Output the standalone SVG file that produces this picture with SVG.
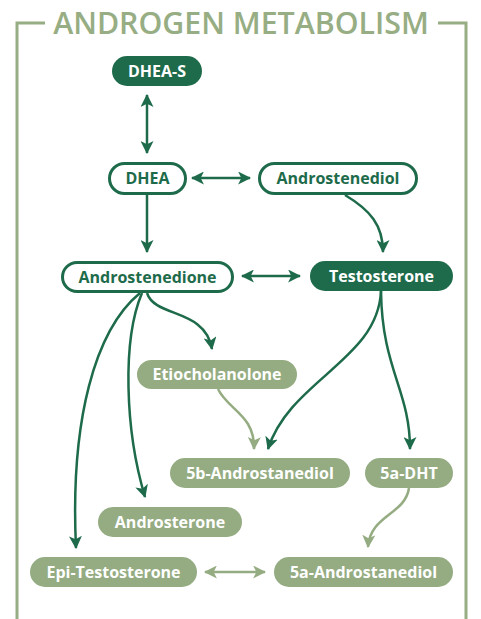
<svg xmlns="http://www.w3.org/2000/svg" width="481" height="619" viewBox="0 0 481 619">
<defs>
<style>
.frame{fill:none;stroke:#97ad83;stroke-width:3}
.title{font-family:"Open Sans","Liberation Sans",sans-serif;font-weight:600;font-size:30.3px;fill:#97ad83}
.dk{fill:#1e6b4b}
.ol{fill:#fff;stroke:#1e6b4b;stroke-width:3}
.lt{fill:#95ac82}
.tw{font-family:"Open Sans","Liberation Sans",sans-serif;font-weight:700;font-size:16px;fill:#fff;text-anchor:middle}
.td{font-family:"Open Sans","Liberation Sans",sans-serif;font-weight:700;font-size:16px;fill:#1e6b4b;text-anchor:middle}
.cd{fill:none;stroke:#1e6b4b;stroke-width:2.5}
.cl{fill:none;stroke:#95ac82;stroke-width:2.5}
</style>
<marker id="ad" viewBox="0 0 12 12" refX="11" refY="6" markerWidth="13" markerHeight="13" markerUnits="userSpaceOnUse" orient="auto-start-reverse">
<path d="M0,0 L12,6 L0,12 L3,6 Z" fill="#1e6b4b"/>
</marker>
<marker id="al" viewBox="0 0 12 12" refX="11" refY="6" markerWidth="13" markerHeight="13" markerUnits="userSpaceOnUse" orient="auto-start-reverse">
<path d="M0,0 L12,6 L0,12 L3,6 Z" fill="#95ac82"/>
</marker>
</defs>
<rect width="481" height="619" fill="#fff"/>
<g id="frame">
<path class="frame" d="M45,23 H17 V619"/>
<path class="frame" d="M438,23 H466 V619"/>
<text class="title" x="241" y="33.5" text-anchor="middle">ANDROGEN METABOLISM</text>
</g>
<g id="connectors">
<path class="cd" d="M147,95 V153" marker-start="url(#ad)" marker-end="url(#ad)"/>
<path class="cd" d="M192,178 H250" marker-start="url(#ad)" marker-end="url(#ad)"/>
<path class="cd" d="M147,195 V252" marker-end="url(#ad)"/>
<path class="cd" d="M345,195 C370,210 383,225 383,252" marker-end="url(#ad)"/>
<path class="cd" d="M242,276 H300" marker-start="url(#ad)" marker-end="url(#ad)"/>
<path class="cd" d="M147,293 C155,318 205,308 212,349" marker-end="url(#ad)"/>
<path class="cd" d="M142,293 C122,340 125,430 145,497" marker-end="url(#ad)"/>
<path class="cd" d="M140,293 C95,330 70,420 76,548" marker-end="url(#ad)"/>
<path class="cd" d="M381,291 C378,360 290,380 268,449" marker-end="url(#ad)"/>
<path class="cd" d="M381,291 C382,370 410,390 410,449" marker-end="url(#ad)"/>
<path class="cl" d="M218,389 C228,410 255,415 254,449" marker-end="url(#al)"/>
<path class="cl" d="M409,488 C405,515 370,515 368,547" marker-end="url(#al)"/>
<path class="cl" d="M205,572 H265" marker-start="url(#al)" marker-end="url(#al)"/>
</g>
<g id="dheas"><rect class="dk" x="112" y="56" width="90" height="30" rx="15"/><text class="tw" x="157" y="76.7">DHEA-S</text></g>
<g id="dhea"><rect class="ol" x="109.5" y="163.5" width="76" height="30" rx="15"/><text class="td" x="147.5" y="184.2">DHEA</text></g>
<g id="androstenediol"><rect class="ol" x="259.5" y="163.5" width="157" height="30" rx="15"/><text class="td" x="338" y="184.2">Androstenediol</text></g>
<g id="androstenedione"><rect class="ol" x="62.5" y="262.5" width="170" height="29" rx="14.5"/><text class="td" x="147.5" y="282.7">Androstenedione</text></g>
<g id="testosterone"><rect class="dk" x="310" y="261" width="143" height="30" rx="15"/><text class="tw" x="381.5" y="281.7">Testosterone</text></g>
<g id="etiocholanolone"><rect class="lt" x="137" y="360" width="160" height="29" rx="14.5"/><text class="tw" x="217" y="380.2">Etiocholanolone</text></g>
<g id="b5androstanediol"><rect class="lt" x="170" y="458" width="180" height="30" rx="15"/><text class="tw" x="260" y="478.7">5b-Androstanediol</text></g>
<g id="a5dht"><rect class="lt" x="365" y="458" width="88" height="30" rx="15"/><text class="tw" x="409" y="478.7">5a-DHT</text></g>
<g id="androsterone"><rect class="lt" x="98" y="507" width="144" height="30" rx="15"/><text class="tw" x="170" y="527.7">Androsterone</text></g>
<g id="epitestosterone"><rect class="lt" x="30" y="557" width="167" height="30" rx="15"/><text class="tw" x="113.5" y="577.7">Epi-Testosterone</text></g>
<g id="a5androstanediol"><rect class="lt" x="274" y="557" width="179" height="30" rx="15"/><text class="tw" x="363.5" y="577.7">5a-Androstanediol</text></g>
</svg>
